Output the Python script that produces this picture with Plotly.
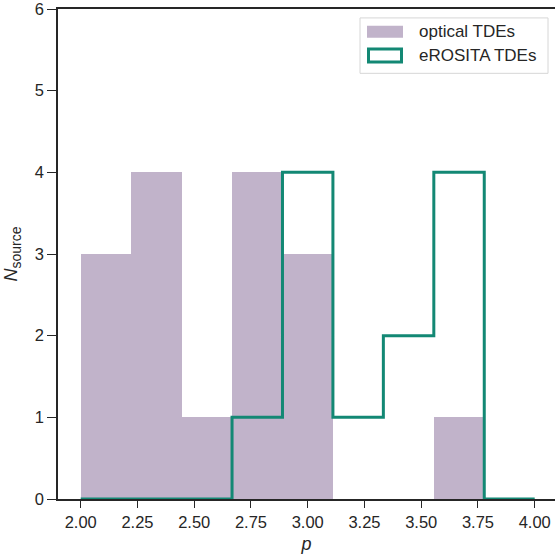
import plotly.graph_objects as go
import numpy as np

# bin edges (9 bins between 2.0 and 4.0)
bin_edges = [2.0, 2.2222, 2.4444, 2.6667, 2.8889, 3.1111, 3.3333, 3.5556, 3.7778, 4.0]
optical_counts = [3, 4, 1, 4, 3, 0, 0, 1, 0]
erosita_counts = [0, 0, 0, 1, 4, 1, 2, 4, 0]
series_names = ["optical TDEs", "eROSITA TDEs"]
x_ticks = [2.00, 2.25, 2.50, 2.75, 3.00, 3.25, 3.50, 3.75, 4.00]
y_ticks = [0, 1, 2, 3, 4, 5, 6]

PURPLE = "rgb(193,179,202)"
GREEN = "rgb(19,136,116)"
DARK = "#262626"
FONT = "Liberation Sans, Arial, sans-serif"

edges = np.array(bin_edges)
centers = (edges[:-1] + edges[1:]) / 2
widths = edges[1:] - edges[:-1]

fig = go.Figure()
fig.add_trace(go.Bar(
    x=centers, y=optical_counts, width=widths,
    marker=dict(color=PURPLE, line=dict(width=0)),
    name=series_names[0], showlegend=False,
))

# step outline for eROSITA
sx, sy = [edges[0]], [0]
for i, c in enumerate(erosita_counts):
    sx += [edges[i], edges[i + 1]]
    sy += [c, c]
sx.append(edges[-1]); sy.append(0)
fig.add_trace(go.Scatter(
    x=sx, y=sy, mode="lines",
    line=dict(color=GREEN, width=3, shape="linear"),
    name=series_names[1], showlegend=False, cliponaxis=False,
))

L, R, T, B = 58, 0, 4, 61
W, H = 555, 560
pw, ph = W - L - R, H - T - B
x0 = 1.9
x1 = x0 + pw / 227.0

def px(x):
    return (x - L) / pw

def py(y):
    return (H - B - y) / ph

shapes = [
    dict(type="rect", xref="paper", yref="paper",
         x0=px(360), x1=px(548), y0=py(69), y1=py(13),
         line=dict(color="#d6d6d6", width=1), fillcolor="rgba(255,255,255,0.85)", layer="above"),
    dict(type="rect", xref="paper", yref="paper",
         x0=px(367), x1=px(403), y0=py(33), y1=py(21),
         line=dict(width=0), fillcolor=PURPLE, layer="above"),
    dict(type="rect", xref="paper", yref="paper",
         x0=px(368.5), x1=px(401.5), y0=py(57.5), y1=py(44.5),
         line=dict(color=GREEN, width=3), fillcolor="white", layer="above"),
]
annotations = [
    dict(xref="paper", yref="paper", x=px(417), y=py(27), text=series_names[0],
         showarrow=False, xanchor="left", yanchor="middle",
         font=dict(family=FONT, size=17, color=DARK)),
    dict(xref="paper", yref="paper", x=px(417), y=py(51), text=series_names[1],
         showarrow=False, xanchor="left", yanchor="middle",
         font=dict(family=FONT, size=17, color=DARK)),
]

fig.update_layout(
    width=W, height=H,
    margin=dict(l=L, r=R, t=T, b=B, pad=0),
    paper_bgcolor="white", plot_bgcolor="white",
    bargap=0, showlegend=False,
    font=dict(family=FONT, size=16, color=DARK),
    shapes=shapes, annotations=annotations,
    xaxis=dict(range=[x0, x1], tickvals=x_ticks,
               ticktext=[f"{v:.2f}" for v in x_ticks],
               showgrid=False, zeroline=False, showline=True, linecolor=DARK,
               linewidth=1.5, mirror=True, ticks="outside", ticklen=7, tickwidth=1.3,
               tickcolor=DARK, tickfont=dict(size=16.5, color=DARK),
               ticklabeloverflow="allow",
               title=dict(text="<i>p</i>", font=dict(size=18, color=DARK), standoff=8)),
    yaxis=dict(range=[0, 6], tickvals=y_ticks,
               showgrid=False, zeroline=False, showline=True, linecolor=DARK,
               linewidth=1.5, mirror=False, ticks="outside", ticklen=9, tickwidth=1.3,
               tickcolor=DARK, tickfont=dict(size=16.5, color=DARK),
               ticklabeloverflow="allow",
               title=dict(text="<i>N</i><sub><span style='font-size:14px'>source</span></sub>",
                          font=dict(size=18, color=DARK), standoff=12)),
)

fig.write_html("out.html")
